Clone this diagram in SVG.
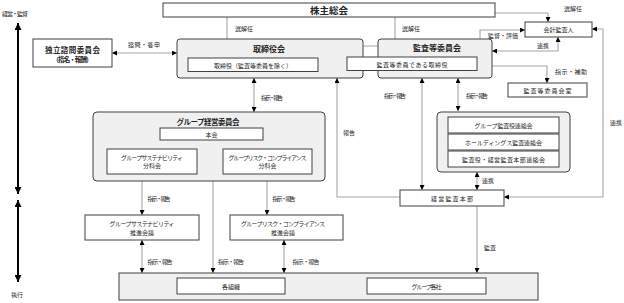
<svg xmlns="http://www.w3.org/2000/svg" width="624" height="303" viewBox="0 0 624 303">
<defs>
<style>
text{font-family:"Noto Sans CJK JP","Noto Sans",sans-serif;fill:#262626;text-anchor:middle;dominant-baseline:central}
.t{font-size:6px}
.b{font-size:8px;font-weight:bold}
.box{fill:#fff;stroke:#404040;stroke-width:1}
.grp{fill:#f0f0f0;stroke:#404040;stroke-width:1}
.c{fill:none;stroke:#a6a6a6;stroke-width:1.1}
.ax{fill:none;stroke:#000;stroke-width:2}
</style>
<marker id="ah" markerUnits="userSpaceOnUse" markerWidth="5" markerHeight="5" refX="5" refY="2.5" orient="auto-start-reverse"><path d="M0,0 L5,2.5 L0,5 z" fill="#000"/></marker>
<marker id="ahb" markerUnits="userSpaceOnUse" markerWidth="7" markerHeight="7" refX="7" refY="3.5" orient="auto-start-reverse"><path d="M0,0 L7,3.5 L0,7 z" fill="#000"/></marker>
</defs>
<rect width="624" height="303" fill="#fff"/>

<g id="connectors">
<path class="c" d="M227,17 V57" marker-end="url(#ah)"/>
<path class="c" d="M395,17 V57" marker-end="url(#ah)"/>
<path class="c" d="M495,13 H548 V22" marker-end="url(#ah)"/>
<path class="c" d="M112,53 H177" marker-start="url(#ah)" marker-end="url(#ah)"/>
<path class="c" d="M378,46 H341 V65 H318" marker-end="url(#ah)"/>
<path class="c" d="M480,39 V30 H525" marker-end="url(#ah)"/>
<path class="c" d="M558,37 V51 H492" marker-start="url(#ah)" marker-end="url(#ah)"/>
<path class="c" d="M477,66 H547 V83" marker-start="url(#ah)" marker-end="url(#ah)"/>
<path class="c" d="M592,29 H603 V197 H504" marker-start="url(#ah)" marker-end="url(#ah)"/>
<path class="c" d="M254,78 V112" marker-start="url(#ah)" marker-end="url(#ah)"/>
<path class="c" d="M400,197 H337 V78" marker-end="url(#ah)"/>
<path class="c" d="M422,78 V190" marker-start="url(#ah)" marker-end="url(#ah)"/>
<path class="c" d="M458,78 V111" marker-start="url(#ah)" marker-end="url(#ah)"/>
<path class="c" d="M142,174 V215" marker-start="url(#ah)" marker-end="url(#ah)"/>
<path class="c" d="M267,174 V215" marker-start="url(#ah)" marker-end="url(#ah)"/>
<path class="c" d="M213,140 V273" marker-start="url(#ah)" marker-end="url(#ah)"/>
<path class="c" d="M142,240 V273" marker-start="url(#ah)" marker-end="url(#ah)"/>
<path class="c" d="M284,240 V273" marker-start="url(#ah)" marker-end="url(#ah)"/>
<path class="c" d="M477,206 V273" marker-end="url(#ah)"/>
<path class="c" d="M477,172 V190" marker-start="url(#ah)" marker-end="url(#ah)"/>
<path class="ax" d="M18,23 V194" marker-start="url(#ahb)" marker-end="url(#ahb)"/>
<path class="ax" d="M18,200 V282" marker-start="url(#ahb)" marker-end="url(#ahb)"/>
<text class="t" x="15" y="13" textLength="26">経営・監督</text>
<text class="t" x="17" y="294">執行</text>
<text class="t" x="244" y="28">選解任</text>
<text class="t" x="411" y="28">選解任</text>
<text class="t" x="573" y="8">選解任</text>
<text class="t" x="144" y="44" textLength="32">諮問・答申</text>
<text class="t" x="317" y="48" textLength="31">監査・監督</text>
<text class="t" x="503" y="35" textLength="30">監督・評価</text>
<text class="t" x="543" y="45">連携</text>
<text class="t" x="571" y="71" textLength="32">指示・補助</text>
<text class="t" x="272" y="97" textLength="22">指示・報告</text>
<text class="t" x="395" y="95" textLength="22">指示・報告</text>
<text class="t" x="477" y="95" textLength="22">指示・報告</text>
<text class="t" x="349" y="132">報告</text>
<text class="t" x="616" y="122">連携</text>
<text class="t" x="159" y="198" textLength="23">指示・報告</text>
<text class="t" x="284" y="198" textLength="23">指示・報告</text>
<text class="t" x="160" y="261" textLength="25">指示・報告</text>
<text class="t" x="231" y="261" textLength="26">指示・報告</text>
<text class="t" x="306" y="261" textLength="27">指示・報告</text>
<text class="t" x="488" y="180">連携</text>
<text class="t" x="490" y="247">監査</text>
</g>

<g id="shareholders">
<rect class="box" x="163" y="3" width="332" height="14"/>
<text x="329" y="10" style="font-size:9.5px;font-weight:bold">株主総会</text>
</g>

<g id="advisory">
<rect class="box" x="33" y="39" width="79" height="28"/>
<text class="b" x="72.5" y="49.5" style="font-size:7.5px" textLength="55">独立諮問委員会</text>
<text class="b" x="72.5" y="58.5" style="font-size:6.5px" textLength="40">（指名・報酬）</text>
</g>

<g id="board">
<rect class="grp" x="177" y="39" width="186" height="39" rx="3"/>
<text class="b" x="269" y="48">取締役会</text>
<rect class="box" x="188" y="58" width="130" height="13.5"/>
<text class="t" x="253" y="65" textLength="78">取締役（監査等委員を除く）</text>
</g>

<g id="audit-committee">
<rect class="grp" x="378" y="39" width="114" height="39" rx="3"/>
<text class="b" x="437" y="47">監査等委員会</text>
<rect class="box" x="347" y="57" width="130" height="13.5"/>
<text class="t" x="412" y="64" textLength="71">監査等委員である取締役</text>
</g>

<g id="accounting-auditor">
<rect class="box" x="525" y="22" width="67" height="15"/>
<text class="t" x="558.5" y="29.5">会計監査人</text>
</g>

<g id="audit-office">
<rect class="box" x="508" y="83" width="79" height="14"/>
<text class="t" x="547.5" y="90" textLength="48">監査等委員会室</text>
</g>

<g id="group-mgmt">
<rect class="grp" x="93" y="112" width="232" height="69" rx="4"/>
<text class="b" x="208" y="121" style="font-size:7.5px" textLength="63">グループ経営委員会</text>
<rect class="box" x="160" y="128" width="103" height="12"/>
<text class="t" x="211.5" y="134">本会</text>
<rect class="box" x="107" y="149" width="90" height="25"/>
<text class="t" x="152" y="157" textLength="62">グループサステナビリティ</text>
<text class="t" x="152" y="165.5">分科会</text>
<rect class="box" x="223" y="149" width="89" height="25"/>
<text class="t" x="267.5" y="157" textLength="78">グループリスク・コンプライアンス</text>
<text class="t" x="267.5" y="165.5">分科会</text>
</g>

<g id="audit-liaison">
<rect class="grp" x="437" y="112" width="133" height="60" rx="4"/>
<rect class="box" x="448" y="117" width="111" height="16"/>
<text class="t" x="503.5" y="125" textLength="58">グループ監査役連絡会</text>
<rect class="box" x="448" y="134" width="111" height="16"/>
<text class="t" x="503.5" y="142" textLength="77">ホールディングス監査連絡会</text>
<rect class="box" x="448" y="151" width="111" height="16"/>
<text class="t" x="503.5" y="159" textLength="83">監査役・経営監査本部連絡会</text>
</g>

<g id="internal-audit">
<rect class="box" x="400" y="190" width="104" height="16"/>
<text class="t" x="452" y="198" textLength="42">経営監査本部</text>
</g>

<g id="sustainability-council">
<rect class="box" x="85" y="215" width="114" height="25"/>
<text class="t" x="142" y="223.5" textLength="65">グループサステナビリティ</text>
<text class="t" x="142" y="232.5">推進会議</text>
</g>

<g id="risk-council">
<rect class="box" x="230" y="215" width="113" height="25"/>
<text class="t" x="283" y="223.5" textLength="84">グループリスク・コンプライアンス</text>
<text class="t" x="283" y="232.5">推進会議</text>
</g>

<g id="execution">
<rect class="grp" x="119" y="273" width="419" height="27"/>
<rect class="box" x="177" y="278" width="108" height="16"/>
<text class="t" x="231" y="286">各組織</text>
<rect class="box" x="367" y="278" width="119" height="16"/>
<text class="t" x="426.5" y="286" textLength="30">グループ各社</text>
</g>
</svg>
